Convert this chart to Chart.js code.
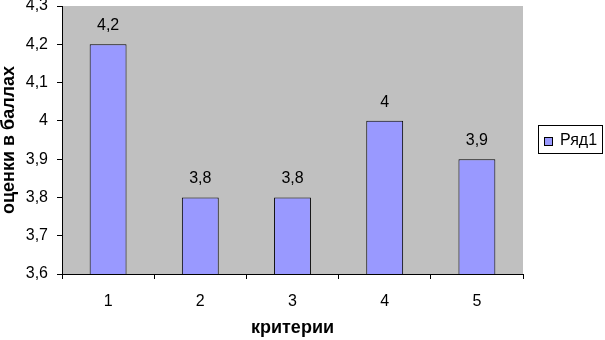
<!DOCTYPE html>
<html>
<head>
<meta charset="utf-8">
<script src="https://cdn.jsdelivr.net/npm/chart.js@4"></script>
<style>
  html, body { margin: 0; padding: 0; background: #fff; }
  #wrap { width: 605px; height: 340px; }
</style>
</head>
<body>
<div id="wrap"><canvas id="chart" width="605" height="340"></canvas></div>
<script>
const categories = ["1", "2", "3", "4", "5"];
const seriesName = "Ряд1";
const values = [4.2, 3.8, 3.8, 4.0, 3.9];
const yMin = 3.6;
const yMax = 4.3;
const yStep = 0.1;

const FONT = "'Liberation Sans', Arial, sans-serif";
const fmt = (v) => String(Math.round(v * 10) / 10).replace(".", ",");

// серый фон области построения
const plotBg = {
  id: "plotBg",
  beforeDraw(chart) {
    const { ctx, chartArea: a } = chart;
    ctx.save();
    ctx.fillStyle = "#C0C0C0";
    ctx.fillRect(a.left, a.top, a.right - a.left, a.bottom - a.top);
    ctx.restore();
  },
};

// подписи значений над столбцами
const valueLabels = {
  id: "valueLabels",
  afterDatasetsDraw(chart) {
    const { ctx } = chart;
    const meta = chart.getDatasetMeta(0);
    ctx.save();
    ctx.font = "16px " + FONT;
    ctx.fillStyle = "#000";
    ctx.textAlign = "center";
    ctx.textBaseline = "alphabetic";
    meta.data.forEach((bar, i) => {
      ctx.fillText(fmt(values[i]), bar.x, bar.y - 14);
    });
    ctx.restore();
  },
};

// легенда в рамке справа
const boxLegend = {
  id: "boxLegend",
  afterDraw(chart) {
    const { ctx } = chart;
    const x = 538, y = 125, w = 64, h = 28;
    ctx.save();
    ctx.fillStyle = "#fff";
    ctx.fillRect(x, y, w, h);
    ctx.strokeStyle = "#000";
    ctx.lineWidth = 1;
    ctx.strokeRect(x + 0.5, y + 0.5, w, h);
    ctx.fillStyle = "#9999FF";
    ctx.fillRect(x + 6, y + 12, 9, 9);
    ctx.strokeRect(x + 6.5, y + 12.5, 8, 8);
    ctx.fillStyle = "#000";
    ctx.font = "16px " + FONT;
    ctx.textAlign = "left";
    ctx.textBaseline = "middle";
    ctx.fillText(seriesName, x + 22, y + 16);
    ctx.restore();
  },
};

new Chart(document.getElementById("chart"), {
  type: "bar",
  data: {
    labels: categories,
    datasets: [
      {
        label: seriesName,
        data: values,
        backgroundColor: "#9999FF",
        borderColor: "#000000",
        borderWidth: 1,
        categoryPercentage: 0.8,
        barPercentage: 0.5,
      },
    ],
  },
  options: {
    responsive: false,
    animation: false,
    layout: { padding: { top: 6, right: 82, left: 0, bottom: 0 } },
    plugins: {
      legend: { display: false },
      tooltip: { enabled: false },
    },
    scales: {
      x: {
        grid: {
          offset: true,
          drawOnChartArea: false,
          tickLength: 5,
          color: "#000",
        },
        border: { color: "#000", width: 1 },
        ticks: {
          color: "#000",
          font: { family: FONT, size: 16 },
          padding: 13,
        },
        title: {
          display: true,
          text: "критерии",
          color: "#000",
          font: { family: FONT, size: 18, weight: "bold", lineHeight: 1 },
          padding: { top: 0, bottom: 3 },
        },
        afterFit(scale) {
          scale.height = 66;
          scale.paddingLeft = 0;
          scale.paddingRight = 0;
        },
      },
      y: {
        min: yMin,
        max: yMax,
        grid: {
          drawOnChartArea: false,
          tickLength: 5,
          color: "#000",
        },
        border: { color: "#000", width: 1 },
        ticks: {
          stepSize: yStep,
          color: "#000",
          font: { family: FONT, size: 16 },
          padding: 9,
          callback: (v) => fmt(v),
        },
        title: {
          display: true,
          text: "оценки в баллах",
          color: "#000",
          font: { family: FONT, size: 18, weight: "bold", lineHeight: 1 },
          padding: { top: 0, bottom: 0 },
        },
        afterFit(scale) {
          scale.width = 62;
          scale.paddingTop = 0;
          scale.paddingBottom = 0;
        },
      },
    },
  },
  plugins: [plotBg, valueLabels, boxLegend],
});
</script>
</body>
</html>
